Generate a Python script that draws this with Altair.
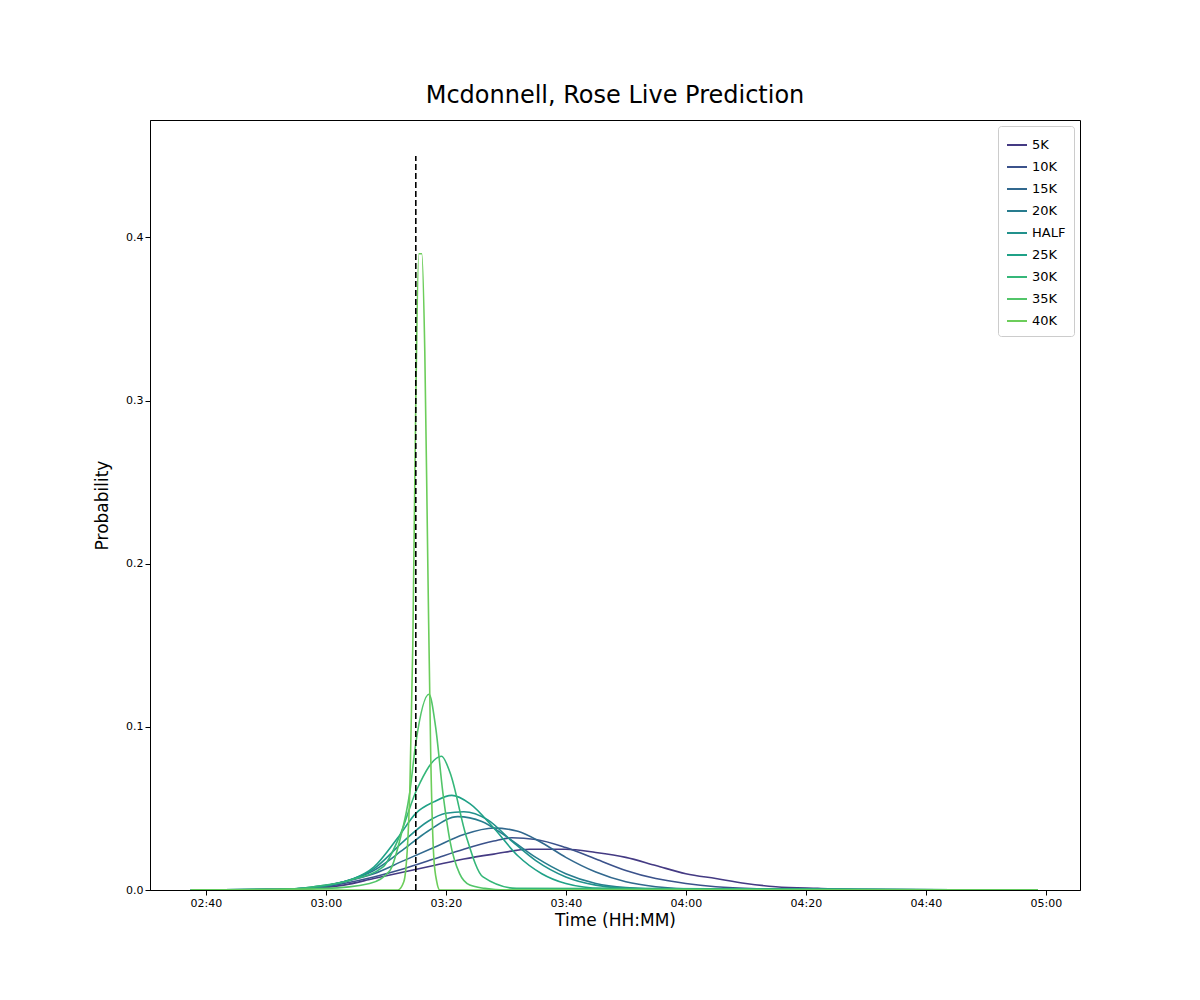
import altair as alt
import pandas as pd

# minutes since 00:00 / probability
splits = ["5K", "10K", "15K", "20K", "HALF", "25K", "30K", "35K", "40K"]
colors = ["#443a83", "#3b528b", "#31688e", "#287c8e", "#21918c", "#1fa187", "#35b779", "#52c569", "#6ccd5a"]

t_5k = [157.5, 170, 178, 183, 188, 193, 198, 203, 208, 214, 220, 225, 230, 235, 240, 245, 250, 255, 262, 270, 298.7]
p_5k = [0, 0.0002, 0.001, 0.003, 0.007, 0.011, 0.015, 0.019, 0.022, 0.025, 0.025, 0.023, 0.02, 0.015, 0.01, 0.007, 0.004, 0.002, 0.001, 0.0003, 0]
t_10k = [157.5, 170, 178, 183, 188, 193, 198, 203, 208, 211, 215, 220, 225, 230, 235, 240, 245, 252, 260, 298.7]
p_10k = [0, 0.0002, 0.001, 0.004, 0.008, 0.013, 0.019, 0.025, 0.030, 0.032, 0.031, 0.026, 0.019, 0.012, 0.007, 0.004, 0.002, 0.0007, 0.0002, 0]
t_15k = [157.5, 172, 178, 183, 188, 193, 198, 203, 208, 212, 216, 220, 225, 230, 235, 242, 298.7]
p_15k = [0, 0.0003, 0.0015, 0.005, 0.01, 0.018, 0.026, 0.034, 0.038, 0.036, 0.029, 0.02, 0.011, 0.005, 0.002, 0.0005, 0]
t_20k = [157.5, 172, 178, 183, 188, 193, 197, 202, 206, 210, 215, 220, 225, 230, 238, 298.7]
p_20k = [0, 0.0003, 0.0015, 0.005, 0.012, 0.025, 0.036, 0.045, 0.042, 0.033, 0.02, 0.01, 0.004, 0.0015, 0.0003, 0]
t_half = [157.5, 172, 178, 183, 188, 193, 197, 200, 203, 207, 211, 215, 220, 225, 232, 298.7]
p_half = [0, 0.0003, 0.0015, 0.005, 0.013, 0.03, 0.042, 0.047, 0.048, 0.043, 0.03, 0.018, 0.008, 0.003, 0.0008, 0]
t_25k = [157.5, 172, 178, 184, 188, 192, 195, 198, 201, 204, 208, 212, 216, 220, 226, 298.7]
p_25k = [0, 0.0003, 0.002, 0.006, 0.014, 0.032, 0.047, 0.054, 0.058, 0.053, 0.038, 0.021, 0.01, 0.004, 0.001, 0]
t_30k = [157.5, 172, 178, 184, 189.5, 192.3, 195.1, 199.3, 200.7, 203.4, 206.2, 211.8, 298.7]
p_30k = [0, 0.0003, 0.002, 0.006, 0.014, 0.033, 0.061, 0.082, 0.072, 0.033, 0.008, 0.001, 0]
t_35k = [157.5, 180, 187.3, 190.7, 192.3, 194, 195, 197.2, 198.3, 199.5, 200.7, 202.3, 204, 206.5, 210, 298.7]
p_35k = [0, 0.001, 0.004, 0.012, 0.03, 0.06, 0.09, 0.12, 0.1, 0.06, 0.03, 0.01, 0.003, 0.001, 0, 0]
t_40k = [157.5, 192, 193, 194, 194.5, 195, 195.5, 196, 196.5, 197, 197.5, 198, 198.5, 199, 298.7]
p_40k = [0, 0, 0.005, 0.06, 0.15, 0.30, 0.39, 0.39, 0.33, 0.2, 0.08, 0.02, 0.005, 0, 0]

times = [t_5k, t_10k, t_15k, t_20k, t_half, t_25k, t_30k, t_35k, t_40k]
probs = [p_5k, p_10k, p_15k, p_20k, p_half, p_25k, p_30k, p_35k, p_40k]

rows = []
for name, ts, ps in zip(splits, times, probs):
    for t, p in zip(ts, ps):
        rows.append({"split": name, "t": t, "p": p})
df = pd.DataFrame(rows)

goal = pd.DataFrame({"t": [195], "y0": [0], "y1": [0.45]})

x_ticks = [160, 180, 200, 220, 240, 260, 280, 300]
hhmm = "format(floor(datum.value / 60), '02d') + ':' + format(datum.value % 60, '02d')"

lines = alt.Chart(df).mark_line(strokeWidth=1.6, interpolate="monotone", clip=True).encode(
    x=alt.X("t:Q", title="Time (HH:MM)", scale=alt.Scale(domain=[150.7, 305.7], nice=False, zero=False),
            axis=alt.Axis(values=x_ticks, labelExpr=hhmm)),
    y=alt.Y("p:Q", title="Probability", scale=alt.Scale(domain=[0, 0.472], nice=False),
            axis=alt.Axis(values=[0, 0.1, 0.2, 0.3, 0.4], format=".1f")),
    color=alt.Color("split:N", sort=splits, scale=alt.Scale(domain=splits, range=colors),
                    legend=alt.Legend(title=None, orient="top-right", symbolType="stroke",
                                      symbolStrokeWidth=2, symbolSize=400, labelFontSize=13,
                                      rowPadding=4, padding=8, strokeColor="#cccccc",
                                      cornerRadius=3, fillColor="white", offset=6)),
)

rule = alt.Chart(goal).mark_rule(color="black", strokeDash=[6, 3], strokeWidth=1.6).encode(
    x="t:Q", y="y0:Q", y2="y1:Q"
)

chart = (lines + rule).properties(
    width=930, height=770,
    title=alt.Title("Mcdonnell, Rose Live Prediction", fontSize=24, fontWeight="normal", offset=12),
    autosize=alt.AutoSizeParams(type="none"),
    padding={"left": 142, "top": 112, "right": 112, "bottom": 102},
).configure(font="DejaVu Sans").configure_view(stroke="black", strokeWidth=1).configure_axis(
    grid=False, domainColor="black", tickColor="black", labelColor="black", labelFontSize=11,
    titleFontSize=17, titleFontWeight="normal", titleColor="black", tickSize=5,
).configure_axisY(titlePadding=14).configure_title(color="black")

chart.save("out.html", embed_options={"renderer": "svg", "actions": False})
